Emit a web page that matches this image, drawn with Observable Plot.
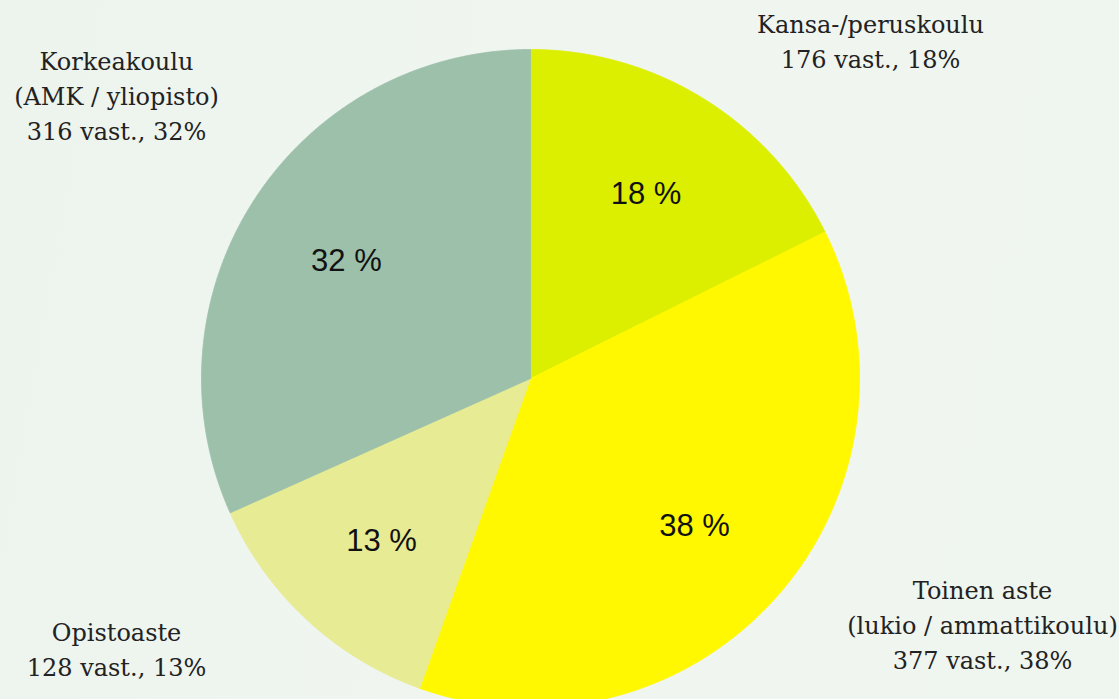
<!DOCTYPE html>
<html>
<head>
<meta charset="utf-8">
<script src="https://cdn.jsdelivr.net/npm/d3@7"></script>
<script src="https://cdn.jsdelivr.net/npm/@observablehq/plot@0.6"></script>
<style>
  html, body { margin: 0; padding: 0; }
  body {
    width: 1119px; height: 699px; overflow: hidden;
    background: linear-gradient(100deg, #edf4ed 0%, #f0f5f0 55%, #eff5ef 100%);
  }
  #chart svg { display: block; overflow: hidden; }
</style>
</head>
<body>
<div id="chart"></div>
<script>
// ---- data ----
const categories = ["Kansa-/peruskoulu", "Toinen aste", "Opistoaste", "Korkeakoulu"];
const subtitles = ["", "(lukio / ammattikoulu)", "", "(AMK / yliopisto)"];
const responses = [176, 377, 128, 316];
const colors = ["#dcef00", "#fff800", "#e7eb93", "#9cc0aa"];

// ---- layout (label offsets from top-left corner of the frame) ----
const outerLayout = [
  {dx: 870, dy: 8},
  {dx: 982, dy: 574},
  {dx: 116, dy: 616},
  {dx: 116, dy: 45}
];

const total = d3.sum(responses);
const pct = (v) => Math.round(v / total * 100);

// build slice polygons (angle measured clockwise from 12 o'clock)
const slices = [];
let acc = 0;
categories.forEach((c, i) => {
  const a0 = acc / total * 2 * Math.PI;
  acc += responses[i];
  const a1 = acc / total * 2 * Math.PI;
  slices.push({cat: c, value: responses[i], a0, a1, mid: (a0 + a1) / 2});
});

const piePoints = [];
for (const s of slices) {
  piePoints.push({cat: s.cat, x: 0, y: 0});
  const n = Math.max(2, Math.ceil((s.a1 - s.a0) / (Math.PI / 720)));
  for (let k = 0; k <= n; k++) {
    const a = s.a0 + (s.a1 - s.a0) * k / n;
    piePoints.push({cat: s.cat, x: Math.sin(a), y: -Math.cos(a)});
  }
  piePoints.push({cat: s.cat, x: 0, y: 0});
}

const innerLabels = slices.map(s => ({
  x: (2 / 3) * Math.sin(s.mid),
  y: -(2 / 3) * Math.cos(s.mid),
  text: `${pct(s.value)} %`
}));

const outerMarks = categories.map((c, i) => {
  const lines = [c];
  if (subtitles[i]) lines.push(subtitles[i]);
  lines.push(`${responses[i]} vast., ${pct(responses[i])}%`);
  return Plot.text([lines.join("\n")], {
    text: d => d,
    frameAnchor: "top-left",
    dx: outerLayout[i].dx,
    dy: outerLayout[i].dy,
    textAnchor: "middle",
    lineAnchor: "top",
    lineHeight: 1.45,
    fontSize: 24,
    fontFamily: "DejaVu Serif",
    fill: "#222"
  });
});

const chart = Plot.plot({
  width: 1119,
  height: 699,
  margin: 0,
  x: {domain: [-1, 1], range: [201, 859], axis: null},
  y: {domain: [-1, 1], range: [49, 707], axis: null},
  color: {domain: categories, range: colors},
  style: {background: "transparent", overflow: "hidden"},
  marks: [
    Plot.line(piePoints, {
      x: "x", y: "y", z: "cat",
      fill: "cat", stroke: "cat", strokeWidth: 0.8,
      curve: "linear"
    }),
    Plot.text(innerLabels, {
      x: "x", y: "y", text: "text",
      dy: 2,
      fontSize: 31, fontFamily: "Liberation Sans",
      fill: "#111"
    }),
    ...outerMarks
  ]
});
document.getElementById("chart").appendChild(chart);
</script>
</body>
</html>
